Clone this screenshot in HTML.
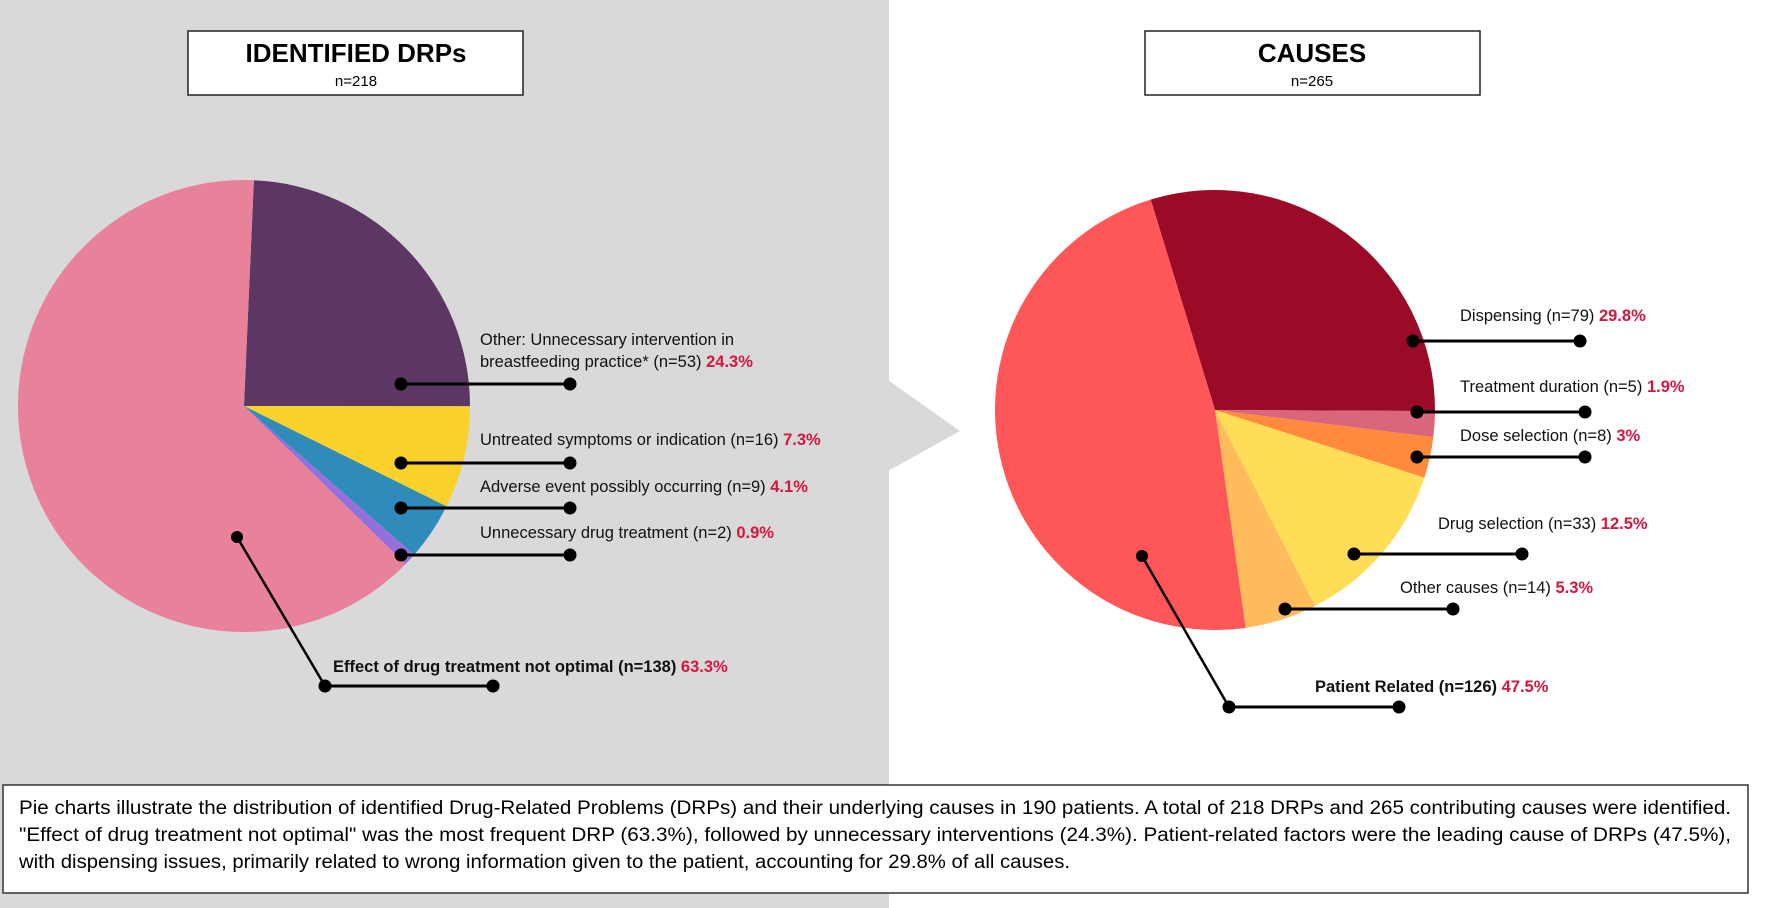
<!DOCTYPE html>
<html><head><meta charset="utf-8"><style>
html,body{margin:0;padding:0;background:#fff;}
svg{display:block;font-family:"Liberation Sans",sans-serif;}
</style></head><body>
<svg id="chart" width="1772" height="908" viewBox="0 0 1772 908" xmlns="http://www.w3.org/2000/svg">
<rect x="0" y="0" width="889" height="908" fill="#d9d9d9"/>
<polygon points="888,380 960,431 888,471" fill="#d9d9d9"/>
<g>
<rect x="188" y="31" width="335" height="64" fill="#fff" stroke="#222" stroke-width="1.5"/>
<text x="356" y="62" text-anchor="middle" font-size="26" font-weight="bold" fill="#000">IDENTIFIED DRPs</text>
<text x="356" y="86" text-anchor="middle" font-size="15" fill="#000">n=218</text>
</g>
<g>
<rect x="1145" y="31" width="335" height="64" fill="#fff" stroke="#222" stroke-width="1.5"/>
<text x="1312" y="62" text-anchor="middle" font-size="26" font-weight="bold" fill="#000">CAUSES</text>
<text x="1312" y="86" text-anchor="middle" font-size="15" fill="#000">n=265</text>
</g>
<g id="pies"></g>
<g>
<rect x="3" y="785" width="1745" height="108" fill="#fff" stroke="#333" stroke-width="1.5"/>
<text x="19" y="814" font-size="19" fill="#000" textLength="1712" lengthAdjust="spacingAndGlyphs">Pie charts illustrate the distribution of identified Drug-Related Problems (DRPs) and their underlying causes in 190 patients. A total of 218 DRPs and 265 contributing causes were identified.</text>
<text x="19" y="841" font-size="19" fill="#000" textLength="1712" lengthAdjust="spacingAndGlyphs">"Effect of drug treatment not optimal" was the most frequent DRP (63.3%), followed by unnecessary interventions (24.3%). Patient-related factors were the leading cause of DRPs (47.5%),</text>
<text x="19" y="868" font-size="19" fill="#000" textLength="1051" lengthAdjust="spacingAndGlyphs">with dispensing issues, primarily related to wrong information given to the patient, accounting for 29.8% of all causes.</text>
</g>
</svg>
<script>
const drpLabels = ["Other: Unnecessary intervention in|breastfeeding practice* (n=53)", "Untreated symptoms or indication (n=16)", "Adverse event possibly occurring (n=9)", "Unnecessary drug treatment (n=2)", "Effect of drug treatment not optimal (n=138)"];
const drpValues = [24.3, 7.3, 4.1, 0.9, 63.3];
const drpPctText = ["24.3%", "7.3%", "4.1%", "0.9%", "63.3%"];
const causeLabels = ["Dispensing (n=79)", "Treatment duration (n=5)", "Dose selection (n=8)", "Drug selection (n=33)", "Other causes  (n=14)", "Patient Related (n=126)"];
const causeValues = [29.8, 1.9, 3, 12.5, 5.3, 47.5];
const causePctText = ["29.8%", "1.9%", "3%", "12.5%", "5.3%", "47.5%"];

const NS = "http://www.w3.org/2000/svg";
const root = document.getElementById('pies');
function mk(tag, attrs, parent){const e=document.createElementNS(NS,tag);for(const k in attrs)e.setAttribute(k,attrs[k]);(parent||root).appendChild(e);return e;}
function pt(cx,cy,r,deg){const a=(deg-90)*Math.PI/180;return [cx+r*Math.cos(a),cy+r*Math.sin(a)];}

const left = {cx:244, cy:406, r:226, start:2.5, values:drpValues, labels:drpLabels, pct:drpPctText,
  colors:["#5c3763","#f9d12b","#2e8bba","#9370db","#e8829a"],
  lab:[{tx:480,ty:[345,367],lx1:401,lx2:570,ly:384,bold:false},
       {tx:480,ty:[445],lx1:401,lx2:570,ly:463,bold:false},
       {tx:480,ty:[492],lx1:401,lx2:570,ly:508,bold:false},
       {tx:480,ty:[538],lx1:401,lx2:570,ly:555,bold:false},
       {tx:333,ty:[672],lx1:325,lx2:493,ly:686,bold:true,diag:[237,537]}]};
const right = {cx:1215, cy:410, r:220, start:-17, values:causeValues, labels:causeLabels, pct:causePctText,
  colors:["#9b0a27","#d9667a","#ff8a3d","#ffdd57","#ffbb5c","#ff5757"],
  lab:[{tx:1460,ty:[321],lx1:1413,lx2:1580,ly:341,bold:false},
       {tx:1460,ty:[392],lx1:1417,lx2:1585,ly:412,bold:false},
       {tx:1460,ty:[441],lx1:1417,lx2:1585,ly:457,bold:false},
       {tx:1438,ty:[529],lx1:1354,lx2:1522,ly:554,bold:false},
       {tx:1400,ty:[593],lx1:1285,lx2:1453,ly:609,bold:false},
       {tx:1315,ty:[692],lx1:1229,lx2:1399,ly:707,bold:true,diag:[1142,556]}]};

function drawPie(p, prefix){
  const total = p.values.reduce((a,b)=>a+b,0);
  let ang = p.start;
  p.values.forEach((v,i)=>{
    const sweep = v/total*360;
    const a0=pt(p.cx,p.cy,p.r,ang), a1=pt(p.cx,p.cy,p.r,ang+sweep);
    const large = sweep>180?1:0;
    const path = mk('path',{d:`M${p.cx},${p.cy} L${a0[0]},${a0[1]} A${p.r},${p.r} 0 ${large} 1 ${a1[0]},${a1[1]} Z`, fill:p.colors[i]});
    
    
    ang += sweep;
  });
  p.labels.forEach((lbl,i)=>{
    const L = p.lab[i];
    const g = mk('g',{});
    
    
    if(L.diag){
      mk('line',{x1:L.diag[0],y1:L.diag[1],x2:L.lx1,y2:L.ly,stroke:'#000','stroke-width':2.5},g);
      mk('circle',{cx:L.diag[0],cy:L.diag[1],r:6,fill:'#000'},g);
    }
    mk('line',{x1:L.lx1,y1:L.ly,x2:L.lx2,y2:L.ly,stroke:'#000','stroke-width':3},g);
    mk('circle',{cx:L.lx1,cy:L.ly,r:6.5,fill:'#000'},g);
    mk('circle',{cx:L.lx2,cy:L.ly,r:6.5,fill:'#000'},g);
    const lines = lbl.split('|');
    lines.forEach((ln,j)=>{
      const t = mk('text',{x:L.tx,y:L.ty[j],'font-size':16.5,fill:'#111','font-weight':L.bold?'bold':'normal'},g);
      t.appendChild(document.createTextNode(ln));
      if(j===lines.length-1){
        const s = mk('tspan',{fill:'#d6163e','font-weight':'bold'},t);
        s.textContent = ' '+p.pct[i];
      }
    });
  });
}
drawPie(left,'drp');
drawPie(right,'cause');
</script>
</body></html>
